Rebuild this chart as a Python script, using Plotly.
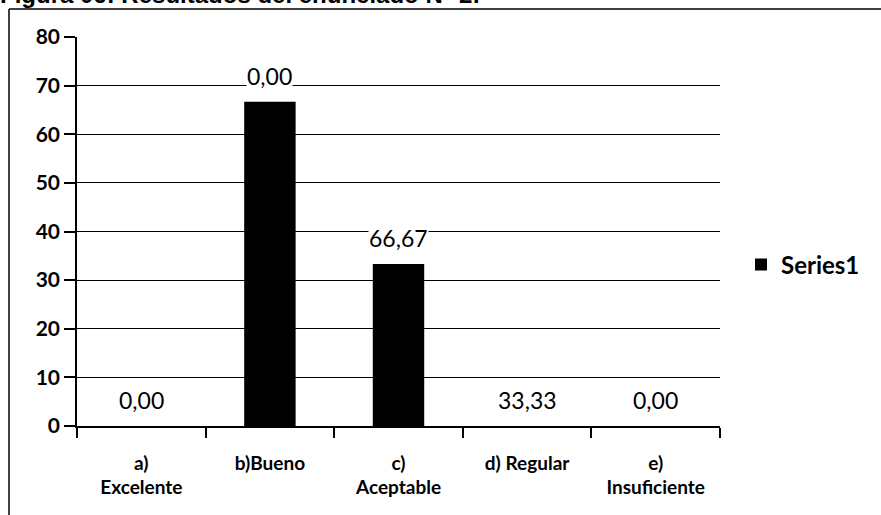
import plotly.graph_objects as go

categories = ["a)<br>Excelente", "b)Bueno", "c)<br>Aceptable", "d) Regular", "e)<br>Insuficiente"]
values = [0.0, 66.67, 33.33, 0.0, 0.0]
labels = ["0,00", "0,00", "66,67", "33,33", "0,00"]
y_ticks = [0, 10, 20, 30, 40, 50, 60, 70, 80]
series_name = "Series1"
title_text = "Figura 06: Resultados del enunciado N° 2:"

W, H = 881, 515
L, R, T, B = 77, 161, 37, 89
pw, ph = W - L - R, H - T - B

def px_x(p):
    return (p - L) / pw

def px_y(p):
    return (H - B - p) / ph

fig = go.Figure()
fig.add_trace(go.Bar(
    x=categories, y=values, name=series_name,
    marker=dict(color="black", line=dict(width=0)),
    showlegend=True,
))

for c, v, t in zip(categories, values, labels):
    fig.add_annotation(x=c, y=v, xref="x", yref="y", text=t, showarrow=False,
                       yanchor="middle", yshift=26, bgcolor="white", borderpad=0,
                       font=dict(family="Lato", size=23, color="black"))

fig.add_annotation(x=px_x(-1), y=px_y(9), xref="paper", yref="paper", text="<b>" + title_text + "</b>",
                   showarrow=False, xanchor="left", yanchor="bottom", borderpad=0,
                   font=dict(family="Liberation Sans", size=24, color="black"))

fig.add_shape(type="line", xref="paper", yref="paper", x0=px_x(9), x1=px_x(900), y0=px_y(9), y1=px_y(9),
              line=dict(color="black", width=1.5))
fig.add_shape(type="line", xref="paper", yref="paper", x0=px_x(9), x1=px_x(9), y0=px_y(9), y1=px_y(530),
              line=dict(color="black", width=1.5))

fig.update_layout(
    width=W, height=H,
    margin=dict(l=L, r=R, t=T, b=B, autoexpand=False),
    paper_bgcolor="white", plot_bgcolor="white",
    bargap=0.6,
    font=dict(family="Lato", color="black"),
    legend=dict(x=px_x(741), y=px_y(265), xanchor="left", yanchor="middle",
                font=dict(family="Lato", size=24, color="black", weight="bold"), itemwidth=30),
)
fig.update_xaxes(
    type="category", showline=True, linecolor="black", linewidth=1.5, automargin=False,
    ticks="outside", tickson="boundaries", ticklen=10, tickcolor="black", tickwidth=1.5,
    tickfont=dict(family="Lato", size=19, color="black", weight="bold"),
    ticklabelstandoff=19,
    showgrid=False,
)
fig.update_yaxes(
    range=[0, 80], tickvals=y_ticks, showline=True, linecolor="black", linewidth=1.5, automargin=False,
    ticks="outside", ticklen=11, tickcolor="black", tickwidth=1.5,
    tickfont=dict(family="Lato", size=21, color="black", weight="bold"),
    showgrid=True, gridcolor="black", gridwidth=1.2, zeroline=False,
)

fig.write_html("out.html", config={"displayModeBar": False},
               post_script="document.body.style.margin='0';document.body.style.overflow='hidden';")
